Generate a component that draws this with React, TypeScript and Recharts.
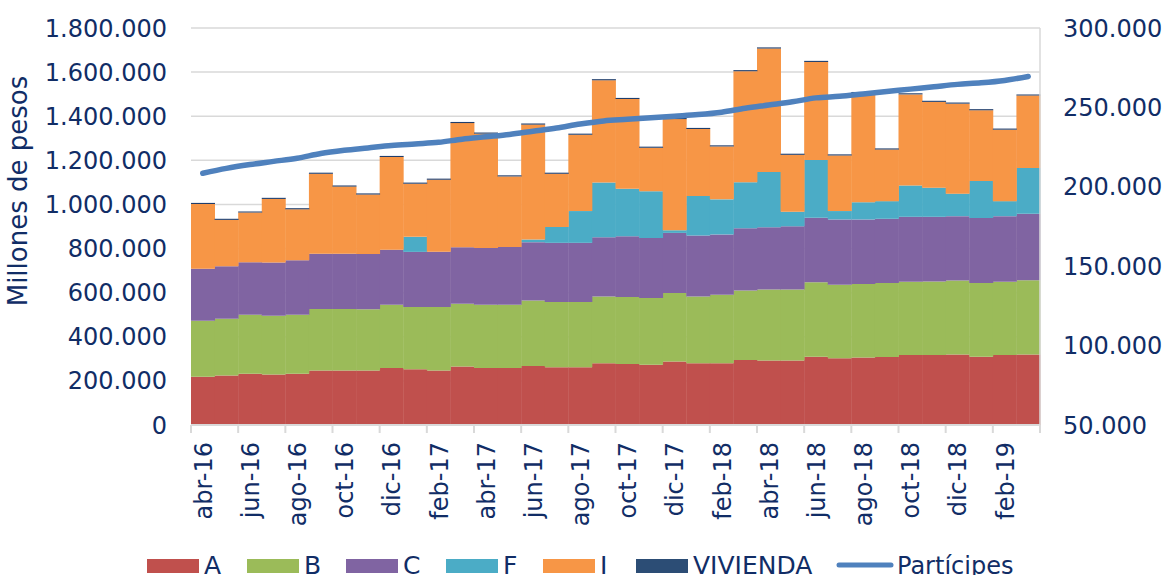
import React from 'react';
import { ComposedChart, Bar, Line, XAxis, YAxis, CartesianGrid } from 'recharts';

// valores en miles (millones de pesos / 1000) y partícipes en miles
const MONTHS = [
  'abr-16', 'may-16', 'jun-16', 'jul-16', 'ago-16', 'sep-16', 'oct-16', 'nov-16', 'dic-16',
  'ene-17', 'feb-17', 'mar-17', 'abr-17', 'may-17', 'jun-17', 'jul-17', 'ago-17', 'sep-17',
  'oct-17', 'nov-17', 'dic-17', 'ene-18', 'feb-18', 'mar-18', 'abr-18', 'may-18', 'jun-18',
  'jul-18', 'ago-18', 'sep-18', 'oct-18', 'nov-18', 'dic-18', 'ene-19', 'feb-19', 'mar-19',
];
const SERIES_A = [219, 224, 232, 229, 232, 247, 247, 247, 259, 253, 247, 265, 258, 258, 268, 262, 262, 280, 277, 273, 288, 280, 280, 295, 292, 292, 310, 303, 306, 308, 317, 317, 320, 310, 317, 320];
const SERIES_B = [254, 258, 268, 266, 268, 279, 279, 278, 286, 282, 288, 285, 287, 287, 296, 296, 296, 303, 303, 303, 310, 303, 310, 315, 322, 322, 337, 333, 333, 336, 333, 334, 335, 334, 333, 336];
const SERIES_C = [235, 238, 238, 242, 247, 250, 250, 250, 250, 250, 250, 256, 258, 262, 265, 268, 268, 268, 276, 272, 273, 276, 274, 282, 283, 287, 293, 296, 293, 291, 294, 293, 292, 294, 297, 302];
const SERIES_F = [0, 0, 0, 0, 0, 0, 0, 0, 0, 68, 0, 0, 0, 0, 12, 72, 144, 248, 215, 212, 12, 179, 159, 209, 250, 66, 261, 38, 78, 80, 142, 132, 102, 168, 68, 207];
const SERIES_I = [294, 210, 225, 288, 231, 363, 305, 270, 420, 241, 327, 563, 518, 320, 521, 241, 346, 464, 407, 197, 504, 304, 240, 503, 560, 258, 445, 252, 495, 234, 413, 389, 408, 321, 324, 329];
const SERIES_VIVIENDA = [5, 5, 5, 5, 5, 5, 5, 5, 5, 5, 5, 5, 5, 5, 5, 5, 5, 5, 5, 5, 5, 5, 5, 5, 5, 5, 5, 5, 5, 5, 5, 5, 5, 5, 5, 5];
const PARTICIPES = [208.5, 211.6, 214, 216, 218, 221, 223, 224.5, 226, 227, 228, 230, 231.5, 233, 235, 237, 239.5, 241.5, 242.5, 243.5, 244.5, 245.5, 247, 249.5, 251.5, 253.5, 256, 257, 258.5, 260, 261.5, 263, 264.5, 265.5, 267, 269.5];

const LEFT_TICKS = [0, 200, 400, 600, 800, 1000, 1200, 1400, 1600, 1800];
const RIGHT_TICKS = [50, 100, 150, 200, 250, 300];

const TEXT = '#112d66';
const GRID = '#d9d9d9';
const FONT = '"DejaVu Sans", Verdana, sans-serif';

const data = MONTHS.map((m, i) => ({
  month: m,
  A: SERIES_A[i],
  B: SERIES_B[i],
  C: SERIES_C[i],
  F: SERIES_F[i],
  I: SERIES_I[i],
  VIVIENDA: SERIES_VIVIENDA[i],
  participes: PARTICIPES[i],
}));

const fmt = (v: number) => String(Math.round(v * 1000)).replace(/\B(?=(\d{3})+(?!\d))/g, '.');

const MonthTick = (props: any) => {
  const { x, y, payload, index } = props;
  const half = payload?.offset || 11.8;
  const i = index ?? payload?.index;
  return (
    <g>
      {i % 2 === 0 && <line x1={x - half} x2={x - half} y1={y} y2={y + 8} stroke={GRID} strokeWidth={2} />}
      {i === MONTHS.length - 1 && <line x1={x + half} x2={x + half} y1={y} y2={y + 8} stroke={GRID} strokeWidth={2} />}
      {i % 2 === 0 && (
        <text
          x={x + 9}
          y={y + 17}
          transform={`rotate(-90 ${x + 9} ${y + 17})`}
          textAnchor="end"
          fontSize={24}
          fontFamily={FONT}
          fill={TEXT}
        >
          {payload.value}
        </text>
      )}
    </g>
  );
};

// leyenda: posición x de cada muestra
const legendItems = [
  { name: 'A', color: '#c0504d', x: 147 },
  { name: 'B', color: '#9bbb59', x: 247 },
  { name: 'C', color: '#8064a2', x: 346 },
  { name: 'F', color: '#4bacc6', x: 446 },
  { name: 'I', color: '#f79646', x: 543 },
  { name: 'VIVIENDA', color: '#2c4d75', x: 636 },
];

export default function App() {
  return (
    <div style={{ position: 'absolute', left: 0, top: 0, width: 1165, height: 575, overflow: 'hidden', background: '#fff', fontFamily: FONT }}>
      <ComposedChart
        width={1165}
        height={575}
        data={data}
        margin={{ top: 28, right: 0, bottom: 0, left: 0 }}
        barCategoryGap={0}
        barGap={0}
      >
        <CartesianGrid yAxisId="left" vertical={false} stroke={GRID} strokeWidth={1.5} />
        <XAxis
          dataKey="month"
          height={150}
          interval={0}
          tickSize={0}
          tickMargin={0}
          tickLine={false}
          axisLine={{ stroke: GRID, strokeWidth: 2 }}
          tick={<MonthTick />}
        />
        <YAxis
          yAxisId="left"
          width={191}
          domain={[0, 1800]}
          ticks={LEFT_TICKS}
          tickFormatter={fmt}
          axisLine={false}
          tickLine={false}
          tickSize={0}
          tickMargin={24}
          tick={{ fill: TEXT, fontSize: 24, fontFamily: FONT }}
          label={() => (
            <text
              x={27}
              y={191}
              transform="rotate(-90 27 191)"
              textAnchor="middle"
              fontSize={26}
              fontFamily={FONT}
              fill={TEXT}
            >
              Millones de pesos
            </text>
          )}
        />
        <YAxis
          yAxisId="right"
          orientation="right"
          width={125}
          domain={[50, 300]}
          ticks={RIGHT_TICKS}
          tickFormatter={fmt}
          axisLine={{ stroke: GRID, strokeWidth: 1.5 }}
          tickLine={false}
          tickSize={0}
          tickMargin={23}
          tick={{ fill: TEXT, fontSize: 24, fontFamily: FONT }}
        />
        <Bar yAxisId="left" dataKey="A" stackId="s" fill="#c0504d" isAnimationActive={false} />
        <Bar yAxisId="left" dataKey="B" stackId="s" fill="#9bbb59" isAnimationActive={false} />
        <Bar yAxisId="left" dataKey="C" stackId="s" fill="#8064a2" isAnimationActive={false} />
        <Bar yAxisId="left" dataKey="F" stackId="s" fill="#4bacc6" isAnimationActive={false} />
        <Bar yAxisId="left" dataKey="I" stackId="s" fill="#f79646" isAnimationActive={false} />
        <Bar yAxisId="left" dataKey="VIVIENDA" stackId="s" fill="#1f3d6b" isAnimationActive={false} />
        <Line
          yAxisId="right"
          dataKey="participes"
          type="monotone"
          stroke="#4f81bd"
          strokeWidth={5.5}
          strokeLinecap="round"
          dot={false}
          isAnimationActive={false}
        />
      </ComposedChart>
      <svg width={1165} height={575} style={{ position: 'absolute', left: 0, top: 0, pointerEvents: 'none' }}>
        {legendItems.map((it) => (
          <g key={it.name}>
            <rect x={it.x} y={559} width={52} height={14} fill={it.color} />
            <text x={it.x + 57} y={574} fontSize={25} fontFamily={FONT} fill={TEXT}>
              {it.name}
            </text>
          </g>
        ))}
        <line x1={839} x2={891} y1={565} y2={565} stroke="#4f81bd" strokeWidth={5} strokeLinecap="round" />
        <text x={897} y={574} fontSize={24} fontFamily={FONT} fill={TEXT}>
          Partícipes
        </text>
      </svg>
    </div>
  );
}
